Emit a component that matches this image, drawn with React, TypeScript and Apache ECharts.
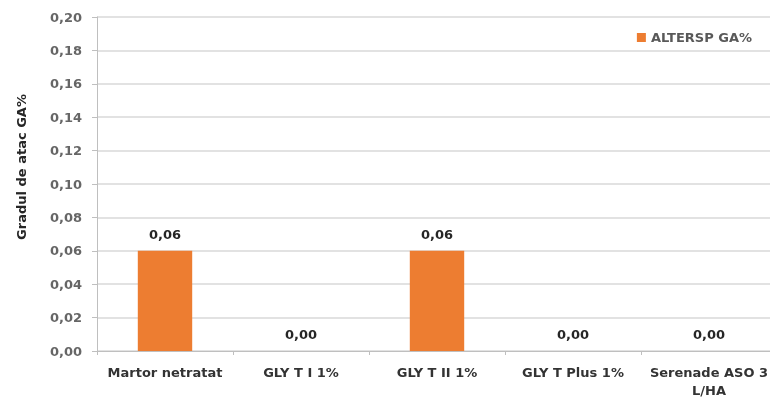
import React, { useEffect, useRef } from "react";
import * as echarts from "echarts";

const categories = ["Martor netratat", "GLY T I 1%", "GLY T II 1%", "GLY T Plus 1%", "Serenade ASO 3\nL/HA"];
const seriesName = "ALTERSP GA%";
const values = [0.06, 0, 0.06, 0, 0];
const yTitle = "Gradul de atac GA%";

const fmt = (v: number) => v.toFixed(2).replace(".", ",");
const FONT = "DejaVu Sans";

export default function App() {
  const ref = useRef<HTMLDivElement>(null);
  useEffect(() => {
    const chart = echarts.init(ref.current!, null, { renderer: "svg" });
    chart.setOption({
      animation: false,
      textStyle: { fontFamily: FONT },
      legend: {
        top: 26,
        right: 13,
        itemWidth: 9,
        itemHeight: 9,
        itemGap: 6,
        icon: "rect",
        textStyle: { fontFamily: FONT, fontSize: 13, color: "#595959", fontWeight: "bold" },
        data: [seriesName],
      },
      grid: { left: 97, right: -7, top: 17, bottom: 46, containLabel: false, outerBoundsMode: "none" },
      xAxis: {
        type: "category",
        data: categories,
        axisLine: { lineStyle: { color: "#BFBFBF", width: 1 } },
        axisTick: { show: true, length: 4, lineStyle: { color: "#BFBFBF" } },
        axisLabel: {
          interval: 0,
          margin: 12,
          color: "#333333",
          fontWeight: "bold",
          fontSize: 13,
          fontFamily: FONT,
          lineHeight: 18,
        },
      },
      yAxis: {
        type: "value",
        min: 0,
        max: 0.2,
        interval: 0.02,
        axisLine: { show: true, lineStyle: { color: "#BFBFBF" } },
        axisTick: { show: true, length: 5, lineStyle: { color: "#BFBFBF" } },
        splitLine: { lineStyle: { color: "#D9D9D9", width: 1.5 } },
        axisLabel: {
          margin: 15,
          color: "#666666",
          fontSize: 13,
          fontWeight: "bold",
          fontFamily: FONT,
          formatter: (v: number) => fmt(v),
        },
      },
      graphic: [
        {
          type: "text",
          x: 21,
          y: 167,
          rotation: Math.PI / 2,
          style: {
            text: yTitle,
            fill: "#262626",
            font: "bold 13px 'DejaVu Sans'",
            textAlign: "center",
            textVerticalAlign: "middle",
          },
        },
      ],
      series: [
        {
          name: seriesName,
          type: "bar",
          data: values,
          barWidth: "40%",
          itemStyle: { color: "#ED7D31" },
          label: {
            show: true,
            position: "top",
            distance: 10,
            color: "#262626",
            fontWeight: "bold",
            fontSize: 13,
            fontFamily: FONT,
            formatter: (p: any) => fmt(p.value),
          },
        },
      ],
    });
    return () => chart.dispose();
  }, []);
  return <div ref={ref} style={{ position: "fixed", left: 0, top: 0, width: 770, height: 397 }} />;
}
